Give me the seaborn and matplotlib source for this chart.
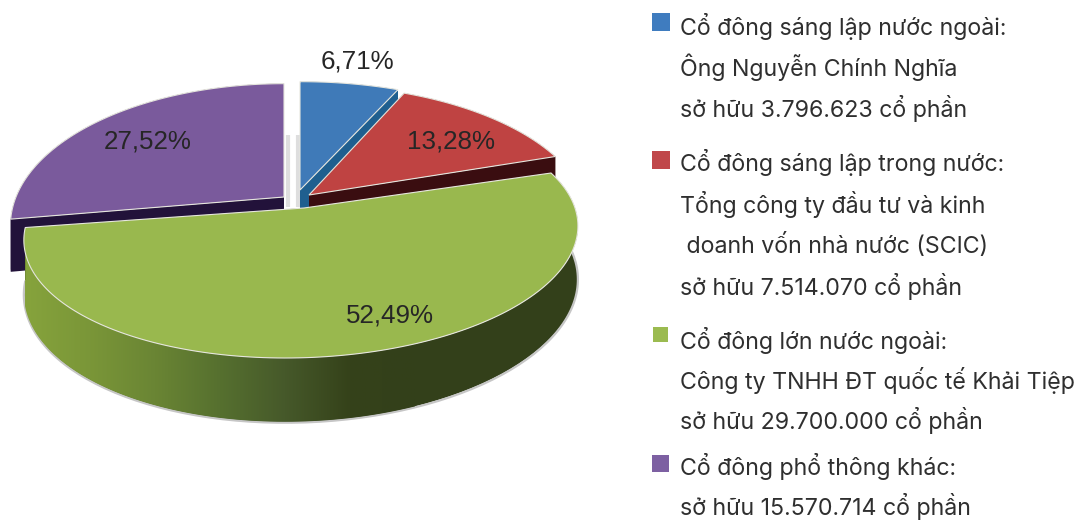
import numpy as np
import matplotlib
matplotlib.use('Agg')
import matplotlib.pyplot as plt
from matplotlib.colors import LinearSegmentedColormap
from matplotlib.patches import Polygon
import seaborn as sns

# --- data ---
shares = [6.71, 13.28, 52.49, 27.52]
top_colors = ['#3f7ab8', '#bf4342', '#99b84e', '#7a5a9c']
key_colors = ['#3f7cbf', '#c0474a', '#9bbb50', '#7d60a2']
side_colors = ['#1f5f8f', '#3a0d10', '#33401a', '#22123a']
legend_lines = [
    ['Cổ đông sáng lập nước ngoài:', 'Ông Nguyễn Chính Nghĩa', 'sở hữu 3.796.623 cổ phần'],
    ['Cổ đông sáng lập trong nước:', 'Tổng công ty đầu tư và kinh', ' doanh vốn nhà nước (SCIC)', 'sở hữu 7.514.070 cổ phần'],
    ['Cổ đông lớn nước ngoài:', 'Công ty TNHH ĐT quốc tế Khải Tiệp', 'sở hữu 29.700.000 cổ phần'],
    ['Cổ đông phổ thông khác:', 'sở hữu 15.570.714 cổ phần'],
]

sns.set_theme(style='white')
plt.rcParams['font.family'] = ['Inter', 'DejaVu Sans']

# --- layout in pixels: apex x, apex y, width, height, skew for each slice ---
geom = [
    (300, 190, 283, 130, 0),
    (309, 195, 275, 132, 0),
    (304, 208, 271, 120, 15),
    (284, 197, 268, 136, 0),
]
label_pos = [(357, 61), (451, 141), (390, 315), (148, 141)]
key_boxes = [(652, 13, 18, 18), (652, 151, 18, 18), (653, 327, 15, 15), (652, 455, 17, 17)]
line_y = [[27, 67, 109], [163, 204, 245, 287], [340, 380, 421], [467, 507]]
PERSP = 0.2
DEPTH = 51


def project(x, y, z, g):
    ax0, ay0, a, b, c = g
    s = 1 / (1 + PERSP * y)
    return np.column_stack([ax0 + (a * x + c * y) * s, ay0 - b * y * s + z * s])


fig = plt.figure(figsize=(10.77, 5.21), dpi=100)
ax = fig.add_axes([0, 0, 1, 1])

# faint shadows either side of the gap
ax.vlines(287.5, 135, 207, color='#dedede', lw=3, zorder=1)
ax.vlines(297.5, 135, 207, color='#dedede', lw=3, zorder=1)

stops = np.cumsum([0] + shares) * 3.6
side_cmap = LinearSegmentedColormap.from_list(
    'green_side', ['#86a33c', '#7a9638', '#6a8534', '#56702f', '#46592a', '#35421a', '#33401a'])

# back slices first, green goes on top of them
z = 2
for i in [0, 3, 1, 2]:
    g = geom[i]
    t = np.radians(np.linspace(stops[i], stops[i + 1], 160))
    x, y = np.sin(t), np.cos(t)
    top = project(x, y, 0, g)
    low = project(x, y, DEPTH, g)
    apex_top = project(np.array([0.0]), np.array([0.0]), 0, g)
    apex_low = project(np.array([0.0]), np.array([0.0]), DEPTH, g)

    # cut faces
    for edge_t, edge_l in [(top[0], low[0]), (top[-1], low[-1])]:
        pts = np.vstack([apex_top, edge_t, edge_l, apex_low])
        ax.add_patch(Polygon(pts, closed=True, fc=side_colors[i], ec='none', zorder=z))
    # outer wall
    wall = np.vstack([top, low[::-1]])
    patch = Polygon(wall, closed=True, fc=side_colors[i], ec='none', zorder=z)
    ax.add_patch(patch)
    if i == 2:
        ax.plot(low[:, 0], low[:, 1] + 1, color='#c6c6c6', lw=1.6, zorder=z)
        im = ax.imshow(np.linspace(0, 1, 256).reshape(1, -1), cmap=side_cmap, aspect='auto',
                       extent=(25, 415, 430, 150), zorder=z + 0.1)
        im.set_clip_path(patch)
    # top face
    face = np.vstack([apex_top, top])
    ax.add_patch(Polygon(face, closed=True, fc=top_colors[i], ec='#e6e6de', lw=0.8, zorder=z + 0.5))
    z += 1

for val, (lx, ly) in zip(shares, label_pos):
    ax.text(lx, ly, f'{val:.2f}%'.replace('.', ','), ha='center', va='center',
            fontsize=18.7, color='#262626', family=['Liberation Sans'], zorder=20)

for col, box, lines, ys in zip(key_colors, key_boxes, legend_lines, line_y):
    ax.add_patch(plt.Rectangle(box[:2], box[2], box[3], fc=col, ec='none', zorder=20))
    for line, ly in zip(lines, ys):
        ax.text(680, ly, line, ha='left', va='center', fontsize=16.7, color='#2f2f2f', zorder=20)

ax.set_xlim(0, 1077)
ax.set_ylim(521, 0)
ax.axis('off')
fig.savefig('out.png', dpi=100)
